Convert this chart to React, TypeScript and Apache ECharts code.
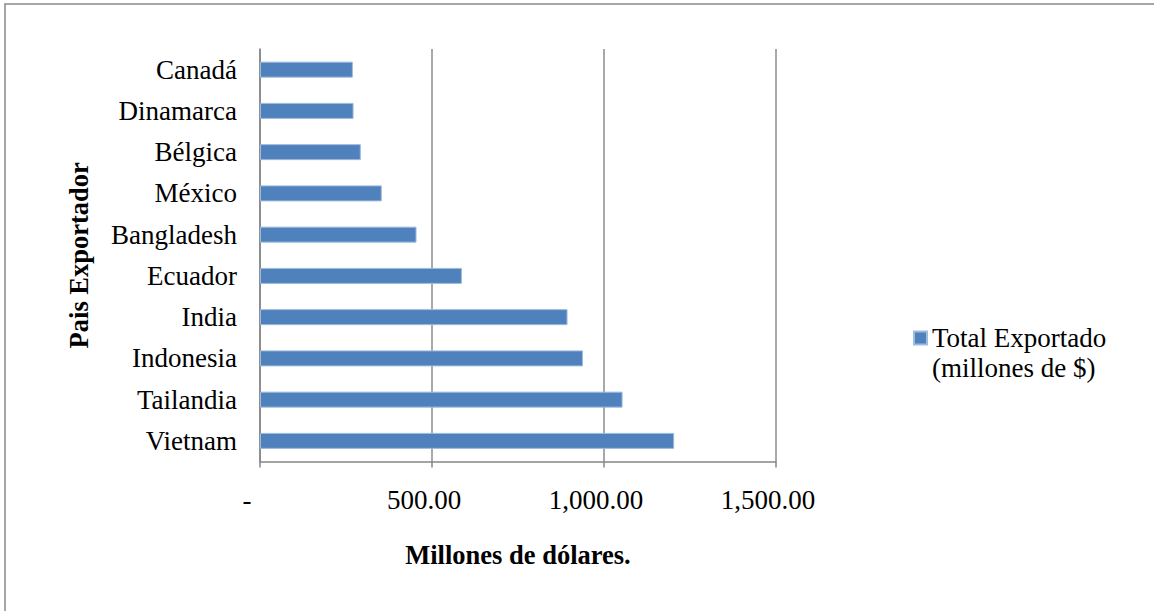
import React, { useEffect, useRef } from "react";
import * as echarts from "echarts";

const categories = ["Canadá", "Dinamarca", "Bélgica", "México", "Bangladesh", "Ecuador", "India", "Indonesia", "Tailandia", "Vietnam"];
const values = [270, 272, 293, 354, 455, 587, 894, 939, 1054, 1204];
const seriesName = "Total Exportado\n(millones de $)";
const xTicks = [0, 500, 1000, 1500];

const FONT = "'Liberation Serif', 'Times New Roman', serif";
const FS = 27;

function fmt(v: number): string {
  if (v === 0) return "{z|-}";
  const s = v.toFixed(2).replace(/\B(?=(\d{3})+(?!\d))/g, ",");
  return "{n|" + s + "}";
}

export default function App() {
  const ref = useRef<HTMLDivElement>(null);
  useEffect(() => {
    if (!ref.current) return;
    const chart = echarts.init(ref.current, null, { renderer: "svg" });
    chart.setOption({
      animation: false,
      backgroundColor: "#ffffff",
      textStyle: { fontFamily: FONT },
      grid: { left: 260, top: 49, right: 378, bottom: 149.5, containLabel: false },
      legend: {
        show: true,
        left: 913,
        top: 293,
        padding: 0,
        itemWidth: 13,
        itemHeight: 13,
        icon: "rect",
        data: [seriesName],
        formatter: (name: string) => "\n" + name,
        textStyle: { fontFamily: FONT, fontSize: FS, color: "#000", lineHeight: 30 },
      },
      xAxis: {
        type: "value",
        min: 0,
        max: 1500,
        interval: 500,
        name: "Millones de dólares.",
        nameLocation: "middle",
        nameGap: 80,
        nameTextStyle: { fontFamily: FONT, fontSize: 26.5, fontWeight: "bold", color: "#000" },
        axisLine: { show: true, lineStyle: { color: "#868686", width: 1.5 } },
        axisTick: { show: true, length: 6, lineStyle: { color: "#868686", width: 1.5 } },
        splitLine: { show: true, lineStyle: { color: "#8c8c8c", width: 1.5 } },
        axisLabel: {
          margin: 25,
          formatter: (v: number) => fmt(v),
          rich: {
            n: { fontFamily: FONT, fontSize: FS, color: "#000", padding: [0, 16, 0, 0] },
            z: { fontFamily: FONT, fontSize: FS, color: "#000", padding: [0, 26, 0, 0] },
          },
        },
      },
      yAxis: {
        type: "category",
        data: categories,
        inverse: true,
        name: "Pais Exportador",
        nameLocation: "middle",
        nameGap: 168,
        nameRotate: 90,
        nameTextStyle: { fontFamily: FONT, fontSize: 26.5, fontWeight: "bold", color: "#000" },
        axisLine: { show: true, lineStyle: { color: "#868686", width: 1.5 } },
        axisTick: { show: false },
        splitLine: { show: false },
        axisLabel: { margin: 23, fontFamily: FONT, fontSize: FS, color: "#000" },
      },
      series: [
        {
          name: seriesName,
          type: "bar",
          data: values,
          barWidth: 16,
          itemStyle: { color: "#4f81bd", borderColor: "#9fbbdd", borderWidth: 1 },
        },
      ],
      graphic: [
        {
          type: "rect",
          shape: { x: 5, y: 4, width: 1170, height: 640 },
          style: { fill: "none", stroke: "#898989", lineWidth: 1.5 },
          silent: true,
        },
      ],
    });
    return () => chart.dispose();
  }, []);
  return <div ref={ref} style={{ position: "fixed", left: 0, top: 0, width: 1154, height: 611 }} />;
}
